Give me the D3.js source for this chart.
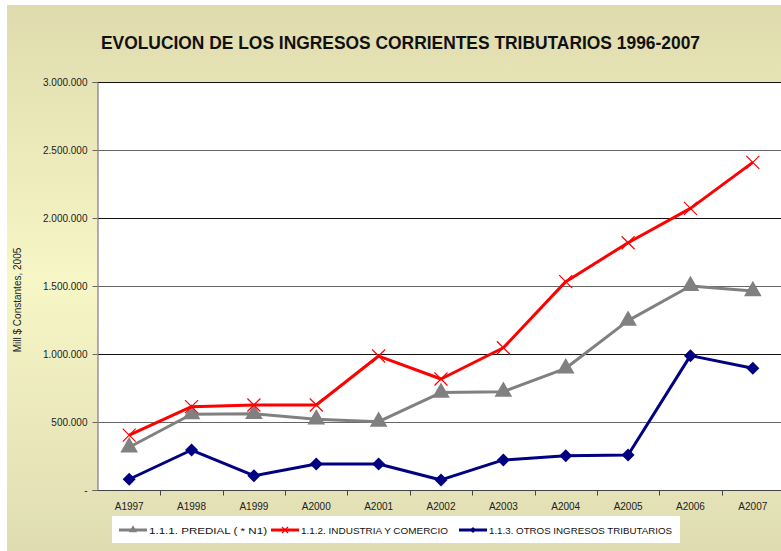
<!DOCTYPE html>
<html>
<head>
<meta charset="utf-8">
<script src="https://cdn.jsdelivr.net/npm/d3@7"></script>
<style>
  html, body { margin: 0; padding: 0; background: #fff; }
  svg { display: block; font-family: "Liberation Sans", Arial, sans-serif; }
</style>
</head>
<body>
<svg id="chart" width="781" height="551"></svg>
<script>
// chart values
const years = ["A1997", "A1998", "A1999", "A2000", "A2001", "A2002", "A2003", "A2004", "A2005", "A2006", "A2007"];
const predial = [314000, 557000, 560000, 520000, 502000, 716000, 723000, 895000, 1245000, 1500000, 1463000];
const industria = [404000, 613000, 625000, 625000, 985000, 816000, 1046000, 1532000, 1818000, 2071000, 2409000];
const otros = [79000, 294000, 105000, 191000, 191000, 74000, 221000, 252000, 257000, 988000, 895000];
const yTicks = [0, 500000, 1000000, 1500000, 2000000, 2500000, 3000000];

const seriesNames = ["1.1.1. PREDIAL   ( * N1)", "1.1.2. INDUSTRIA Y COMERCIO", "1.1.3. OTROS INGRESOS TRIBUTARIOS"];

const W = 781, H = 551;
const plot = { left: 98, right: 784, top: 82, bottom: 490 };

const svg = d3.select("#chart");

// background gradient, pale in the middle, khaki top and bottom
const defs = svg.append("defs");
const grad = defs.append("linearGradient")
    .attr("id", "bg").attr("x1", 0).attr("y1", 0).attr("x2", 0).attr("y2", 1);
grad.append("stop").attr("offset", "0%").attr("stop-color", "#dfdbae");
grad.append("stop").attr("offset", "50%").attr("stop-color", "#f7f6c6");
grad.append("stop").attr("offset", "100%").attr("stop-color", "#dfdcb2");

svg.append("rect")
    .attr("x", 7).attr("y", 5)
    .attr("width", W).attr("height", H)
    .attr("fill", "url(#bg)");

const x = d3.scaleBand().domain(years).range([plot.left, plot.right]).padding(0);
const y = d3.scaleLinear().domain([0, 3000000]).range([plot.bottom, plot.top]);

const es = d3.formatLocale({ decimal: ",", thousands: ".", grouping: [3], currency: ["$", ""] });
const fmt = es.format(",d");

// plot area
svg.append("rect")
    .attr("x", plot.left).attr("y", plot.top)
    .attr("width", plot.right - plot.left).attr("height", plot.bottom - plot.top)
    .attr("fill", "#fff");

// gridlines
svg.append("g")
    .selectAll("line")
    .data(yTicks.filter(d => d > 0))
    .join("line")
    .attr("x1", plot.left).attr("x2", plot.right)
    .attr("y1", d => Math.round(y(d)) + 0.5).attr("y2", d => Math.round(y(d)) + 0.5)
    .attr("stroke", (d, i) => i % 2 ? "#111" : "#666")
    .attr("stroke-width", 1);

// y axis
const yAxis = svg.append("g")
    .attr("transform", `translate(${plot.left - 0.5},0)`)
    .call(d3.axisLeft(y).tickValues(yTicks).tickSize(5).tickPadding(5)
        .tickFormat(d => d === 0 ? "-" : fmt(d)));
yAxis.select(".domain").attr("stroke", "#666");
yAxis.selectAll(".tick line").attr("stroke", "#666");
yAxis.selectAll("text").attr("font-size", 10).attr("fill", "#222")
    .attr("font-family", "Liberation Sans, Arial, sans-serif");

// x axis, ticks sit on the band edges
const xAxis = svg.append("g")
    .attr("transform", `translate(0,${plot.bottom + 0.5})`);
xAxis.append("line")
    .attr("x1", plot.left).attr("x2", plot.right)
    .attr("stroke", "#444");
xAxis.selectAll("line.tk")
    .data(years.slice(1))
    .join("line")
    .attr("class", "tk")
    .attr("x1", d => Math.round(x(d)) + 0.5).attr("x2", d => Math.round(x(d)) + 0.5)
    .attr("y1", 0).attr("y2", 5)
    .attr("stroke", "#444");
xAxis.selectAll("text")
    .data(years)
    .join("text")
    .attr("x", d => x(d) + x.bandwidth() / 2)
    .attr("y", 19)
    .attr("text-anchor", "middle")
    .attr("font-size", 10)
    .attr("fill", "#222")
    .text(d => d);

// y axis title
svg.append("text")
    .attr("transform", `translate(21,${(plot.top + plot.bottom) / 2 + 14}) rotate(-90)`)
    .attr("text-anchor", "middle")
    .attr("font-size", 10)
    .attr("fill", "#222")
    .text("Mill $ Constantes, 2005");

// title
svg.append("text")
    .attr("x", 101).attr("y", 49)
    .attr("font-size", 18)
    .attr("font-weight", "bold")
    .attr("fill", "#111")
    .attr("textLength", 599)
    .attr("lengthAdjust", "spacingAndGlyphs")
    .text("EVOLUCION DE LOS INGRESOS CORRIENTES TRIBUTARIOS 1996-2007");

// series
const series = [
    { name: seriesNames[0], values: predial, color: "#808080", marker: "triangle" },
    { name: seriesNames[1], values: industria, color: "#ff0000", marker: "x" },
    { name: seriesNames[2], values: otros, color: "#000080", marker: "diamond" }
];

const cx = d => x(d) + x.bandwidth() / 2;
const line = d3.line().x(d => cx(d.year)).y(d => y(d.value));

function drawMarker(g, type, color, s) {
    if (type === "triangle") {
        g.append("path")
            .attr("d", d3.symbol(d3.symbolTriangle, s * s * 0.8)())
            .attr("fill", color);
    } else if (type === "diamond") {
        g.append("path")
            .attr("d", `M0,${-s / 2}L${s / 2},0L0,${s / 2}L${-s / 2},0Z`)
            .attr("fill", color);
    } else {
        g.append("path")
            .attr("d", `M${-s / 2},${-s / 2}L${s / 2},${s / 2}M${-s / 2},${s / 2}L${s / 2},${-s / 2}`)
            .attr("stroke", color).attr("stroke-width", 1.2).attr("fill", "none");
    }
}

series.forEach(s => {
    const pts = years.map((yr, i) => ({ year: yr, value: s.values[i] }));
    const g = svg.append("g");
    g.append("path")
        .datum(pts)
        .attr("d", line)
        .attr("fill", "none")
        .attr("stroke", s.color)
        .attr("stroke-width", 3)
        .attr("stroke-linejoin", "round");
    g.selectAll("g")
        .data(pts)
        .join("g")
        .attr("transform", d => `translate(${cx(d.year)},${y(d.value)})`)
        .each(function () { drawMarker(d3.select(this), s.marker, s.color, 13); });
});

// legend
const legend = svg.append("g");
legend.append("rect")
    .attr("x", 112).attr("y", 516)
    .attr("width", 568).attr("height", 27)
    .attr("fill", "#fff");
const legendX = [119, 271, 459];
series.forEach((s, i) => {
    const lg = legend.append("g").attr("transform", `translate(${legendX[i]},530)`);
    lg.append("line").attr("x1", 0).attr("x2", 28)
        .attr("stroke", s.color).attr("stroke-width", 3);
    const m = lg.append("g").attr("transform", "translate(14,0)");
    drawMarker(m, s.marker, s.color, 6);
    lg.append("text")
        .attr("x", 30).attr("y", 3.5)
        .attr("font-size", 9.5)
        .attr("fill", "#111")
        .attr("textLength", [118, 147, 183][i])
        .attr("lengthAdjust", "spacingAndGlyphs")
        .text(s.name);
});
</script>
</body>
</html>
